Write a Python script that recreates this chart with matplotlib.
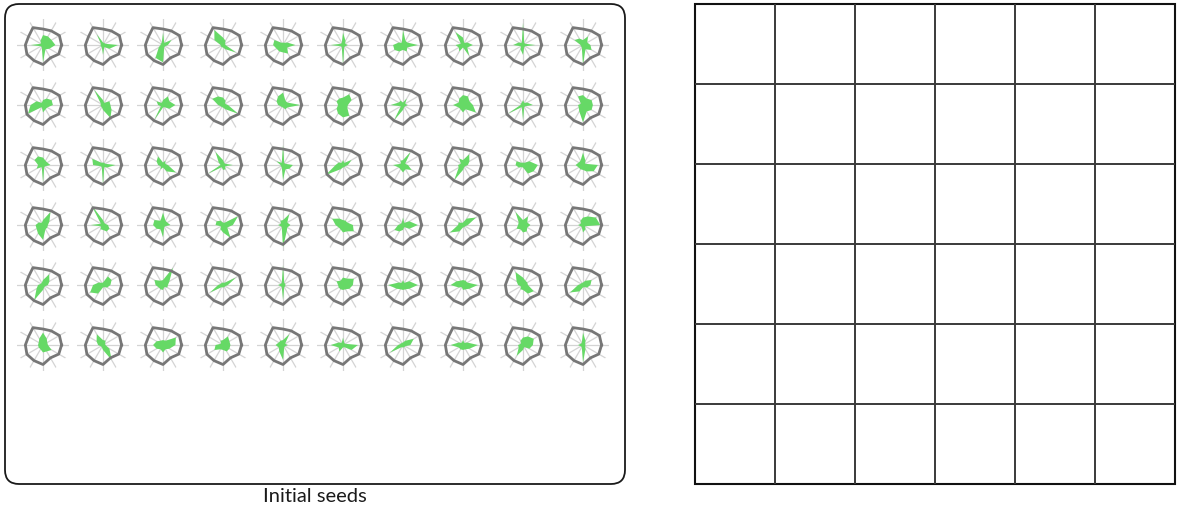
"""Seed radar glyphs (left) next to an empty 6x6 placement grid (right)."""

import matplotlib

matplotlib.use("Agg")
import matplotlib.pyplot as plt
import numpy as np
from matplotlib.patches import FancyBboxPatch

W, H = 1180, 510

GREEN = "#66d966"
OUTLINE_GRAY = "#777777"
SPOKE_GRAY = "#d4d4d4"
INK = "#1a1a1a"

N_AXES = 12
# shared reference outline, one radius per spoke (east, counter-clockwise)
OUTLINE = [1.00, 1.02, 0.88, 0.86, 1.08, 0.90, 0.95, 1.00, 0.97, 1.05, 0.80, 0.98]

# one string per seed, one digit (0-9) per spoke, rows top to bottom
SEEDS_ROW_1 = ["544421511723", "611151111413", "241511126711", "112374111126", "521114433342",
               "212511511811", "622612443232", "421361323152", "511912412411", "324234111824"]
SEEDS_ROW_2 = ["443213571322", "331271111264", "534213217113", "212345211127", "722543211122",
               "245333234552", "213122517211", "434432422326", "421211171611", "443441223734"]
SEEDS_ROW_3 = ["322344231711", "511115411812", "212143212136", "411262171221", "411813111623",
               "241212382111", "216221422324", "235231227211", "631113321145", "612522322235"]
SEEDS_ROW_4 = ["236212334622", "211291512233", "322524432511", "471123312362", "325221211932",
               "422235322335", "631311243213", "263112263111", "324262232332", "764321211321"]
SEEDS_ROW_5 = ["235211237211", "344112464112", "238224322212", "261111261111", "111811211611",
               "453323222223", "631212632223", "622223521223", "222363212245", "342111263112"]
SEEDS_ROW_6 = ["223532222334", "112253211273", "562223432323", "334221342233", "215222323611",
               "611312523114", "352111261111", "621212522223", "454321225213", "112511211721"]
SEED_ROWS = [SEEDS_ROW_1, SEEDS_ROW_2, SEEDS_ROW_3, SEEDS_ROW_4, SEEDS_ROW_5, SEEDS_ROW_6]

GRID_ROWS, GRID_COLS = 6, 6
PANEL_LABEL = "Initial seeds"


def main() -> None:
    fig = plt.figure(figsize=(W / 100, H / 100), dpi=100, facecolor="white")
    base = fig.add_axes([0, 0, 1, 1])
    base.set_xlim(0, W)
    base.set_ylim(H, 0)
    base.axis("off")

    # left panel frame
    base.add_patch(FancyBboxPatch((5 + 14, 5 + 14), 620 - 28, 480 - 28,
                                  boxstyle="round,pad=14", fill=False,
                                  edgecolor=INK, linewidth=1.3))
    base.text(315, 497, PANEL_LABEL, ha="center", va="center", fontsize=14.5,
              family=["Lato", "DejaVu Sans"], color=INK)

    # right panel: empty grid
    gx0, gy0, cell = 695, 5, 80
    xs = gx0 + cell * np.arange(GRID_COLS + 1)
    ys = gy0 + cell * np.arange(GRID_ROWS + 1)
    base.vlines(xs[1:-1], ys[0], ys[-1], color="#3a3a3a", linewidth=1.4)
    base.hlines(ys[1:-1], xs[0], xs[-1], color="#3a3a3a", linewidth=1.4)
    base.add_patch(plt.Rectangle((xs[0], ys[0]), xs[-1] - xs[0], ys[-1] - ys[0],
                                 fill=False, edgecolor="#111111", linewidth=1.5))

    theta = np.deg2rad(np.arange(N_AXES) * 360 / N_AXES)
    t_closed = np.append(theta, theta[0])
    outline = np.append(OUTLINE, OUTLINE[0])
    half = 26  # spoke length in pixels
    for j, row in enumerate(SEED_ROWS):
        for i, seed in enumerate(row):
            cx, cy = 43 + 60 * i, 46 + 60 * j
            ax = fig.add_axes([(cx - half) / W, 1 - (cy + half) / H, 2 * half / W, 2 * half / H],
                              projection="polar")
            ax.set_facecolor("none")
            ax.set_ylim(0, 1.4)
            ax.set_yticks([])
            ax.set_thetagrids(np.rad2deg(theta), labels=[""] * N_AXES)
            ax.xaxis.grid(True, color=SPOKE_GRAY, linewidth=0.9)
            ax.spines["polar"].set_visible(False)
            vals = np.array([int(c) for c in seed]) / 7.5
            ax.fill(t_closed, np.append(vals, vals[0]), color=GREEN, linewidth=0, zorder=2)
            ax.plot(t_closed, outline, color=OUTLINE_GRAY, linewidth=2.0, zorder=3)

    fig.savefig("out.png", dpi=100, facecolor="white")


if __name__ == "__main__":
    main()
